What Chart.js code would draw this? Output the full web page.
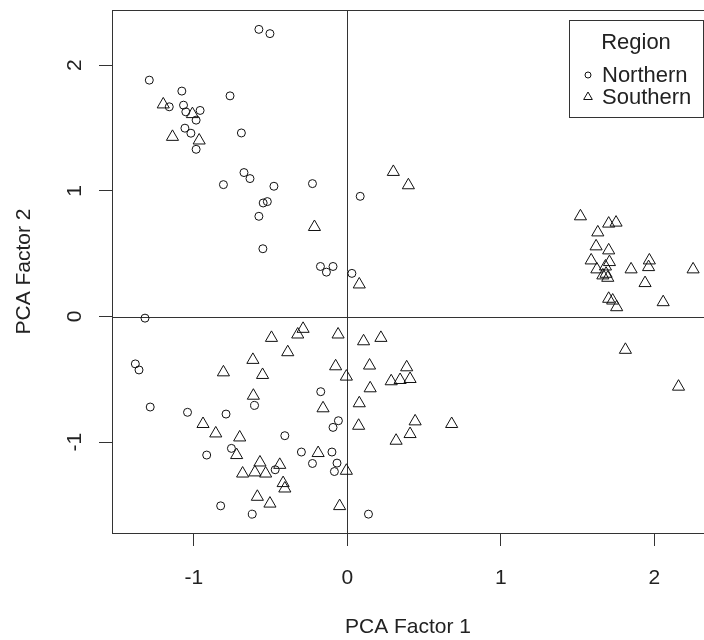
<!DOCTYPE html>
<html>
<head>
<meta charset="utf-8">
<title>PCA</title>
<script src="https://cdn.jsdelivr.net/npm/chart.js"></script>
<style>
  body { margin: 0; background: #fff; }
  #wrap { width: 704px; height: 640px; }
</style>
</head>
<body>
<div id="wrap"><canvas id="pca-chart" width="704" height="640"></canvas></div>
<script>
// values
const xTicks = [-1, 0, 1, 2];
const yTicks = [-1, 0, 1, 2];
const regions = ['Northern', 'Southern'];

const northX = [-0.576, -0.504, -1.29, -1.078, -1.16, -0.764, -1.067, -1.052, -0.959, -0.985,
    -1.058, -1.019, -0.985, -0.69, -0.673, -0.634, -0.807, -0.478, -0.227, -0.548,
    -0.521, -0.576, -0.55, -0.175, -0.136, -0.093, -1.318, 0.084, 0.030, -1.381,
    -1.357, -1.284, -1.041, -0.604, -0.173, -0.058, -0.093, -0.79, -0.407, -0.755,
    -0.916, -0.47, -0.299, -0.227, -0.1, -0.067, -0.084, -0.825, -0.619, 0.138];
const northY = [2.284, 2.25, 1.88, 1.793, 1.668, 1.755, 1.681, 1.628, 1.639, 1.562,
    1.498, 1.458, 1.33, 1.46, 1.145, 1.097, 1.049, 1.036, 1.057, 0.903,
    0.914, 0.797, 0.539, 0.398, 0.353, 0.398, -0.013, 0.956, 0.343, -0.377,
    -0.425, -0.72, -0.762, -0.707, -0.598, -0.829, -0.882, -0.776, -0.948, -1.049,
    -1.102, -1.219, -1.078, -1.169, -1.078, -1.166, -1.233, -1.506, -1.572, -1.572];

const southX = [-1.199, -1.009, -1.139, -0.965, -0.214, 0.30, 0.398, 0.078,
    -0.494, -0.288, -0.323, -0.06, -0.388, -0.615, -0.807, -0.552, -0.076, -0.006, -0.612, -0.158,
    -0.94, -0.857, -0.701, -0.721, -0.569, -0.682, -0.602, -0.532, -0.44, -0.19,
    -0.006, -0.418, -0.407, -0.586, -0.504, -0.05,
    0.106, 0.219, 0.145, 0.387, 0.286, 0.344, 0.409, 0.149, 0.078, 0.074,
    0.442, 0.409, 0.68, 0.318,
    1.519, 1.703, 1.751, 1.632, 1.621, 1.703, 1.589, 1.708, 1.682, 1.626,
    1.686, 1.665, 1.697, 1.849, 1.968, 1.963, 2.253, 1.94, 1.703, 1.729,
    1.755, 2.058, 1.812, 2.158];
const southY = [1.687, 1.61, 1.429, 1.40, 0.712, 1.15, 1.044, 0.255,
    -0.17, -0.098, -0.143, -0.143, -0.284, -0.345, -0.444, -0.465, -0.396, -0.478, -0.63, -0.73,
    -0.855, -0.93, -0.962, -1.102, -1.161, -1.249, -1.24, -1.249, -1.18, -1.086,
    -1.227, -1.325, -1.368, -1.434, -1.488, -1.508,
    -0.197, -0.17, -0.39, -0.404, -0.515, -0.505, -0.497, -0.571, -0.69, -0.869,
    -0.834, -0.935, -0.855, -0.988,
    0.797, 0.739, 0.747, 0.669, 0.558, 0.526, 0.446, 0.433, 0.398, 0.375,
    0.34, 0.327, 0.308, 0.375, 0.446, 0.393, 0.375, 0.266, 0.141, 0.127,
    0.074, 0.114, -0.265, -0.558];

function toPoints(xs, ys) {
    return xs.map((x, i) => ({ x: x, y: ys[i] }));
}

const fontFamily = '"Liberation Sans", Arial, sans-serif';
const textColor = '#222';
const lineColor = '#333';

// box round the plot plus the two zero lines
const frameLines = {
    id: 'frameLines',
    beforeDatasetsDraw(chart) {
        const { ctx, chartArea, scales } = chart;
        const x0 = Math.round(scales.x.getPixelForValue(0)) + 0.5;
        const y0 = Math.round(scales.y.getPixelForValue(0)) + 0.5;
        ctx.save();
        ctx.strokeStyle = lineColor;
        ctx.lineWidth = 1;
        ctx.strokeRect(chartArea.left + 0.5, chartArea.top + 0.5,
            chartArea.right - chartArea.left + 2, chartArea.bottom - chartArea.top);
        ctx.beginPath();
        ctx.moveTo(x0, chartArea.top);
        ctx.lineTo(x0, chartArea.bottom);
        ctx.moveTo(chartArea.left, y0);
        ctx.lineTo(chartArea.right, y0);
        ctx.stroke();
        ctx.restore();
    }
};

// legend box in the top right corner, as R draws it
const regionLegend = {
    id: 'regionLegend',
    afterDraw(chart) {
        const ctx = chart.ctx;
        const left = 569, top = 20, right = 703, bottom = 117;
        ctx.save();
        ctx.fillStyle = '#fff';
        ctx.fillRect(left, top, right - left, bottom - top);
        ctx.strokeStyle = lineColor;
        ctx.lineWidth = 1;
        ctx.strokeRect(left + 0.5, top + 0.5, right - left, bottom - top);
        ctx.fillStyle = textColor;
        ctx.font = '22px ' + fontFamily;
        ctx.textBaseline = 'middle';
        ctx.textAlign = 'center';
        ctx.fillText('Region', 636, 43);
        ctx.textAlign = 'left';
        chart.data.datasets.forEach((ds, i) => {
            const y = 75 + i * 22;
            ctx.strokeStyle = '#111';
            ctx.beginPath();
            if (ds.pointStyle == 'triangle') {
                const r = 5;
                ctx.moveTo(588, y - r);
                ctx.lineTo(588 + r * 0.866, y + r / 2);
                ctx.lineTo(588 - r * 0.866, y + r / 2);
                ctx.closePath();
            } else {
                ctx.arc(588, y, 3, 0, Math.PI * 2);
            }
            ctx.stroke();
            ctx.fillStyle = textColor;
            ctx.fillText(ds.label, 602, y + 1);
        });
        ctx.restore();
    }
};

// fixed axis sizes so the plot box sits where the original one does
function noPadding(scale) {
    scale.paddingTop = 0;
    scale.paddingBottom = 0;
    scale.paddingLeft = 0;
    scale.paddingRight = 0;
}

const ctx = document.getElementById('pca-chart');
const pcaChart = new Chart(ctx, {
    type: 'scatter',
    data: {
        datasets: [{
            label: regions[0],
            data: toPoints(northX, northY),
            pointStyle: 'circle',
            pointRadius: 4,
            borderColor: '#111',
            borderWidth: 1,
            backgroundColor: 'rgba(0,0,0,0)'
        }, {
            label: regions[1],
            data: toPoints(southX, southY),
            pointStyle: 'triangle',
            pointRadius: 7,
            borderColor: '#111',
            borderWidth: 1,
            backgroundColor: 'rgba(0,0,0,0)'
        }]
    },
    options: {
        responsive: false,
        animation: false,
        layout: { autoPadding: false, padding: { top: 10, left: 0, right: 0, bottom: 0 } },
        plugins: {
            legend: { display: false },
            tooltip: { enabled: false }
        },
        scales: {
            x: {
                type: 'linear',
                min: -1.533,
                max: 2.324,
                afterBuildTicks: function (scale) {
                    scale.ticks = xTicks.map(v => ({ value: v }));
                },
                afterFit: function (scale) {
                    scale.height = 107;
                    noPadding(scale);
                },
                ticks: {
                    color: textColor,
                    font: { family: fontFamily, size: 21 },
                    padding: 20,
                    maxRotation: 0,
                    callback: v => String(v)
                },
                grid: {
                    drawOnChartArea: false,
                    drawTicks: true,
                    tickLength: 13,
                    color: lineColor
                },
                border: { display: false },
                title: {
                    display: true,
                    text: 'PCA Factor 1',
                    color: textColor,
                    font: { family: fontFamily, size: 21 },
                    padding: { top: 0, bottom: 0 }
                }
            },
            y: {
                type: 'linear',
                min: -1.722,
                max: 2.438,
                afterBuildTicks: function (scale) {
                    scale.ticks = yTicks.map(v => ({ value: v }));
                },
                afterFit: function (scale) {
                    scale.width = 112;
                    noPadding(scale);
                },
                ticks: {
                    color: textColor,
                    font: { family: fontFamily, size: 21 },
                    padding: 14,
                    minRotation: 90,
                    maxRotation: 90,
                    crossAlign: 'center',
                    callback: v => String(v)
                },
                grid: {
                    drawOnChartArea: false,
                    drawTicks: true,
                    tickLength: 13,
                    color: lineColor
                },
                border: { display: false },
                title: {
                    display: true,
                    text: 'PCA Factor 2',
                    color: textColor,
                    font: { family: fontFamily, size: 21 },
                    padding: { top: 12, bottom: 0 }
                }
            }
        }
    },
    plugins: [frameLines, regionLegend]
});
</script>
</body>
</html>
